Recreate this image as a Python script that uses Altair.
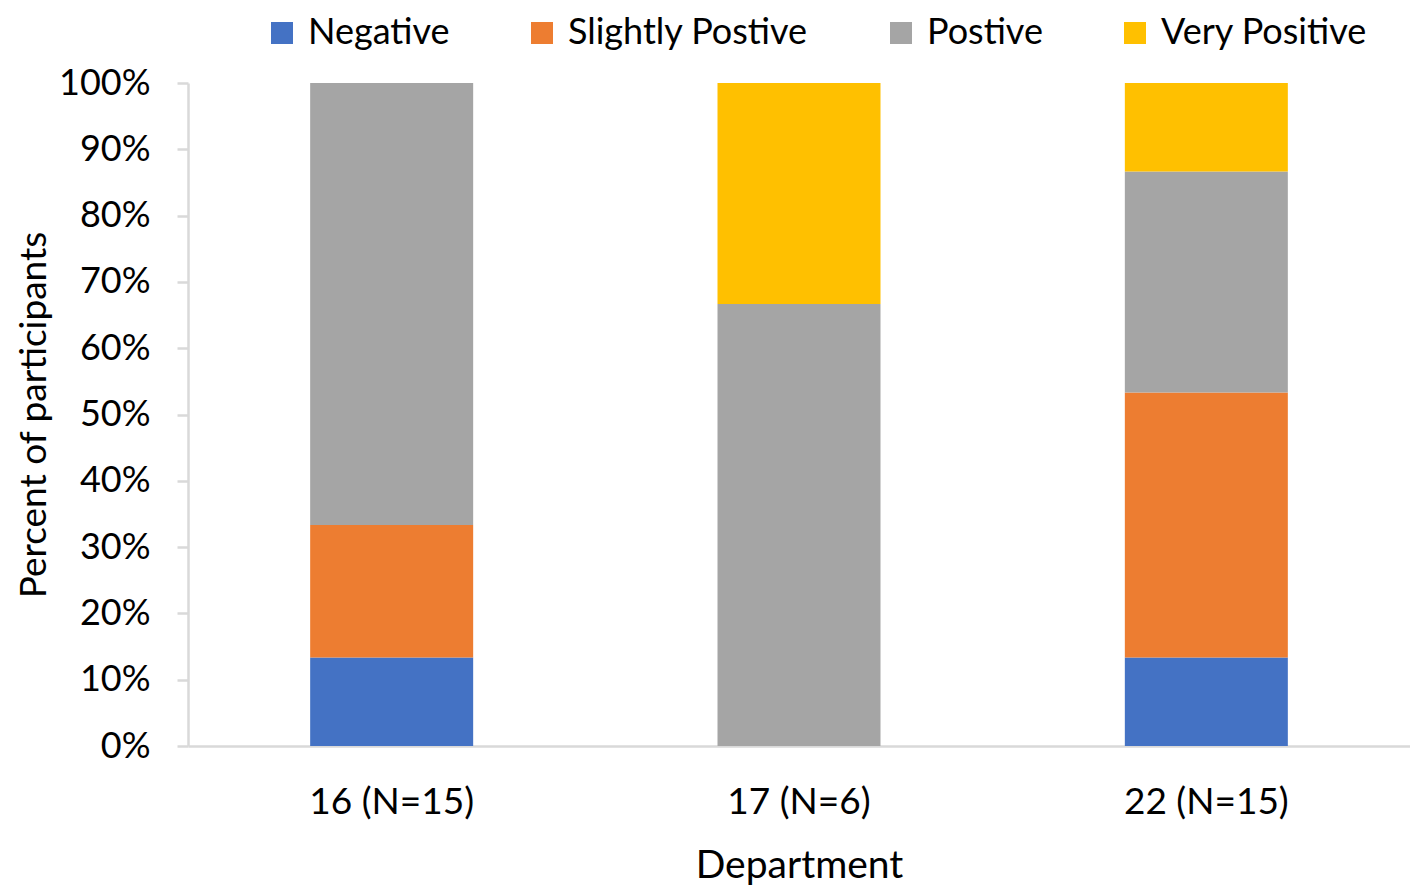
import altair as alt
import pandas as pd

departments = ["16 (N=15)", "17 (N=6)", "22 (N=15)"]
categories = ["Negative", "Slightly Postive", "Postive", "Very Positive"]
colors = ["#4472C4", "#ED7D31", "#A5A5A5", "#FFC000"]
negative = [0.1333, 0.0, 0.1333]
slightly_positive = [0.20, 0.0, 0.40]
positive = [0.6667, 0.6667, 0.3333]
very_positive = [0.0, 0.3333, 0.1333]

series = [negative, slightly_positive, positive, very_positive]
rows = []
for ci, (cat, vals) in enumerate(zip(categories, series)):
    for d, v in zip(departments, vals):
        rows.append({"Department": d, "Category": cat, "value": v, "ord": ci})
df = pd.DataFrame(rows)

FONT = "Lato"

chart = alt.Chart(df).mark_bar(size=163).encode(
    x=alt.X("Department:N", sort=departments, title="Department",
            scale=alt.Scale(paddingInner=0.6, paddingOuter=0.3),
            axis=alt.Axis(labelAngle=0, ticks=False, tickSize=0, labelPadding=38,
                          titlePadding=26, domainColor="#D9D9D9", domainWidth=2.5,
                          labelFontSize=37, titleFontSize=39, labelColor="#000000",
                          titleColor="#000000", titleFontWeight="normal")),
    y=alt.Y("value:Q", stack="zero", title="Percent of participants",
            scale=alt.Scale(domain=[0, 1], nice=False),
            axis=alt.Axis(format=".0%", values=[i / 10 for i in range(11)], grid=False,
                          tickSize=11, tickColor="#D9D9D9", tickWidth=2.5,
                          domainColor="#D9D9D9", domainWidth=2.5, labelPadding=27,
                          titlePadding=5, labelFontSize=36, titleFontSize=37,
                          labelColor="#000000", titleColor="#000000",
                          titleFontWeight="normal")),
    color=alt.Color("Category:N", sort=categories,
                    scale=alt.Scale(domain=categories, range=colors),
                    legend=alt.Legend(title=None, orient="none", legendX=76, legendY=-68,
                                      direction="horizontal", columns=4, columnPadding=74,
                                      symbolType="square", symbolSize=484,
                                      symbolStrokeWidth=0, labelFontSize=36,
                                      labelLimit=600, labelColor="#000000", labelOffset=8)),
    order=alt.Order("ord:Q", sort="ascending"),
).properties(
    width=1222, height=663,
    padding={"left": 180, "top": 75, "right": 0, "bottom": 144},
    autosize=alt.AutoSizeParams(type="none"),
).configure(font=FONT).configure_view(stroke=None)

chart.save("out.html", embed_options={"renderer": "svg", "actions": False})
